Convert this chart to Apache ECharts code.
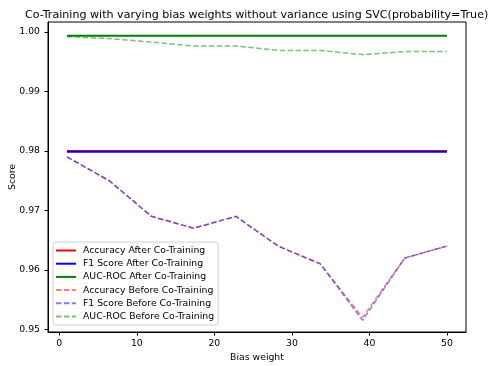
<!DOCTYPE html>
<html><head><meta charset="utf-8">
<script src="https://cdn.jsdelivr.net/npm/echarts@6/dist/echarts.min.js"></script>
<style>html,body{margin:0;padding:0;background:#fff}#c{width:489px;height:366px}</style>
</head><body><div id="c"></div>
<script>
const biasWeights = [1, 6.44, 11.89, 17.33, 22.78, 28.22, 33.67, 39.11, 44.56, 50];
const accAfter = [0.98, 0.98, 0.98, 0.98, 0.98, 0.98, 0.98, 0.98, 0.98, 0.98];
const f1After = [0.97985, 0.97985, 0.97985, 0.97985, 0.97985, 0.97985, 0.97985, 0.97985, 0.97985, 0.97985];
const aucAfter = [0.99935, 0.99935, 0.99935, 0.99935, 0.99935, 0.99935, 0.99935, 0.99935, 0.99935, 0.99935];
const accBefore = [0.979, 0.975, 0.969, 0.967, 0.969, 0.964, 0.961, 0.952, 0.962, 0.964];
const f1Before = [0.979, 0.975, 0.969, 0.967, 0.969, 0.964, 0.961, 0.9515, 0.962, 0.964];
const aucBefore = [0.9992, 0.9989, 0.9983, 0.99765, 0.99765, 0.9969, 0.9969, 0.9962, 0.9967, 0.9967];
const xTicks = [0, 10, 20, 30, 40, 50];
const yTicks = [0.95, 0.96, 0.97, 0.98, 0.99, 1.00];

const FONT = 'DejaVu Sans';
function pairs(ys){ return biasWeights.map((x,i)=>[x, ys[i]]); }
function mk(name, ys, color, dashed){
  return {
    name, type:'line', data:pairs(ys), symbol:'none', showSymbol:false, animation:false,
    lineStyle:{color, width: dashed?1.5:2, type: dashed?[5.5,2.4]:'solid', opacity: dashed?0.5:1},
    itemStyle:{color, opacity: dashed?0.5:1},
    emphasis:{disabled:true}
  };
}
const chart = echarts.init(document.getElementById('c'), null, {renderer:'canvas'});
chart.setOption({
  animation:false,
  backgroundColor:'#fff',
  title:{text:'Co-Training with varying bias weights without variance using SVC(probability=True)',
    left:20, top:5, textStyle:{fontFamily:FONT, fontSize:11.1, fontWeight:'normal', color:'#000'}},
  grid:{left:48, right:23, top:22, bottom:34, show:true, borderColor:'#000', borderWidth:1,
    backgroundColor:'transparent', outerBoundsMode:'none', containLabel:false},
  legend:{
    orient:'vertical', left:53, top:242, itemWidth:20, itemHeight:10, itemGap:4.2,
    backgroundColor:'rgba(255,255,255,0.8)', borderColor:'#d0d0d0', borderWidth:1, borderRadius:3,
    padding:[4,4,4,2],
    itemStyle:{opacity:0, borderWidth:0},
    textStyle:{fontFamily:FONT, fontSize:9.3, color:'#000', padding:[0,0,0,2]},
    data:['Accuracy After Co-Training','F1 Score After Co-Training','AUC-ROC After Co-Training',
          'Accuracy Before Co-Training','F1 Score Before Co-Training','AUC-ROC Before Co-Training']
  },
  xAxis:{
    type:'value', min:-1.45, max:52.45, name:'Bias weight', nameLocation:'middle', nameGap:21,
    nameMoveOverlap:false,
    nameTextStyle:{fontFamily:FONT, fontSize:9.3, color:'#000'},
    axisLine:{show:true, onZero:false, lineStyle:{color:'#000', width:1}},
    axisTick:{show:true, length:3.5, lineStyle:{color:'#000'}, customValues:xTicks},
    axisLabel:{fontFamily:FONT, fontSize:9.3, color:'#000', margin:7, customValues:xTicks},
    splitLine:{show:false}
  },
  yAxis:{
    type:'value', min:0.94955, max:1.00168, name:'Score', nameLocation:'middle', nameGap:31, nameRotate:90,
    nameMoveOverlap:false,
    nameTextStyle:{fontFamily:FONT, fontSize:9.3, color:'#000'},
    axisLine:{show:true, onZero:false, lineStyle:{color:'#000', width:1}},
    axisTick:{show:true, length:3.5, lineStyle:{color:'#000'}, customValues:yTicks},
    axisLabel:{fontFamily:FONT, fontSize:9.3, color:'#000', margin:8, customValues:yTicks,
      formatter:v=>v.toFixed(2)},
    splitLine:{show:false}
  },
  series:[
    mk('Accuracy After Co-Training', accAfter, '#ff0000', false),
    mk('F1 Score After Co-Training', f1After, '#0000ff', false),
    mk('AUC-ROC After Co-Training', aucAfter, '#008000', false),
    mk('Accuracy Before Co-Training', accBefore, '#ff0000', true),
    mk('F1 Score Before Co-Training', f1Before, '#0000ff', true),
    mk('AUC-ROC Before Co-Training', aucBefore, '#008000', true)
  ]
});
</script></body></html>
